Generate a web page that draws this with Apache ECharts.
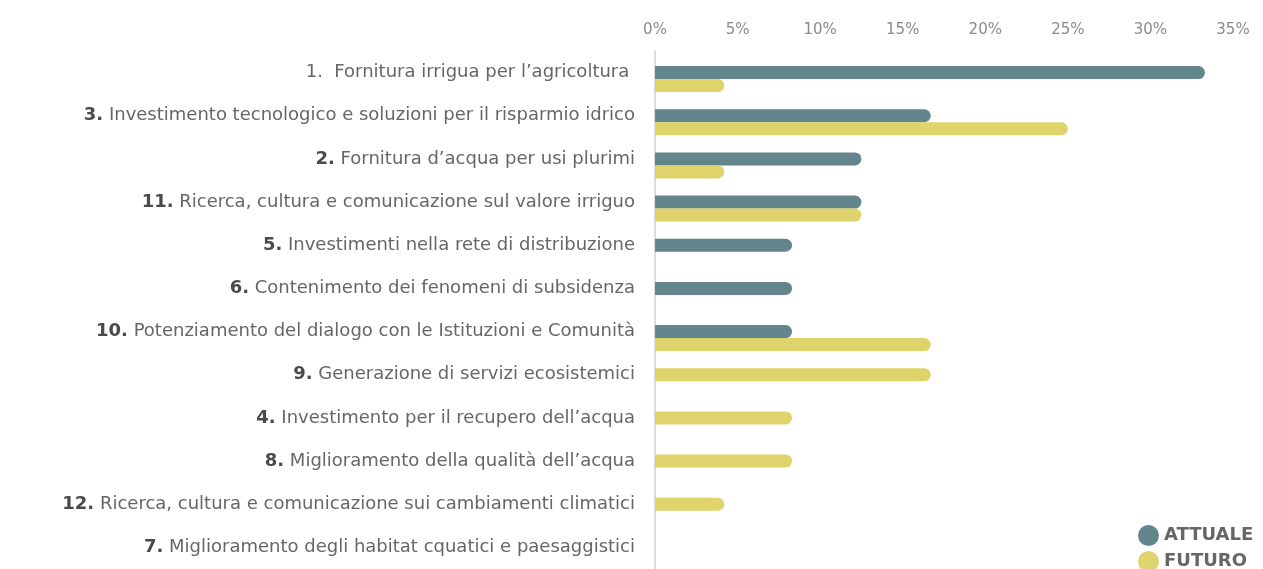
<!DOCTYPE html>
<html>
<head>
<meta charset="utf-8">
<script src="https://cdn.jsdelivr.net/npm/echarts@6/dist/echarts.min.js"></script>
<style>
  html, body { margin: 0; padding: 0; background: #fff; }
  #chart { width: 1263px; height: 569px; }
</style>
</head>
<body>
<div id="chart"></div>
<script>
// ordine delle righe come nel grafico (dall'alto)
const categories = [
  '1.  Fornitura irrigua per l\u2019agricoltura ',
  '3. Investimento tecnologico e soluzioni per il risparmio idrico',
  '2. Fornitura d\u2019acqua per usi plurimi',
  '11. Ricerca, cultura e comunicazione sul valore irriguo',
  '5. Investimenti nella rete di distribuzione',
  '6. Contenimento dei fenomeni di subsidenza',
  '10. Potenziamento del dialogo con le Istituzioni e Comunit\u00e0',
  '9. Generazione di servizi ecosistemici',
  '4. Investimento per il recupero dell\u2019acqua',
  '8. Miglioramento della qualit\u00e0 dell\u2019acqua',
  '12. Ricerca, cultura e comunicazione sui cambiamenti climatici',
  '7. Miglioramento degli habitat cquatici e paesaggistici'
]
const attuale = [33.3, 16.7, 12.5, 12.5, 8.3, 8.3, 8.3, null, null, null, null, null]
const futuro = [4.2, 25, 4.2, 12.5, null, null, 16.7, 16.7, 8.3, 8.3, 4.2, null]
const xTicks = [0, 5, 10, 15, 20, 25, 30, 35]

const colAttuale = '#62868b'
const colFuturo = '#dfd46b'

// righe con entrambe le barre vs. righe con una sola barra
const paired = categories.map((c, i) => attuale[i] != null && futuro[i] != null)
const pick = (arr, keepPaired) => arr.map((v, i) => (paired[i] === keepPaired ? v : null))

const barStyle = color => ({ color: color, borderRadius: [0, 7, 7, 0] })
const BW = 13

const chart = echarts.init(document.getElementById('chart'))
chart.setOption({
  animation: false,
  textStyle: { fontFamily: 'DejaVu Sans' },
  grid: { left: 655, right: 30, top: 51, height: 528, containLabel: false },
  xAxis: {
    type: 'value',
    position: 'top',
    min: xTicks[0],
    max: xTicks[xTicks.length - 1],
    interval: 5,
    axisLine: { show: false },
    axisTick: { show: false },
    splitLine: { show: false },
    axisLabel: {
      margin: 13,
      color: '#8a8a8a',
      fontSize: 15,
      formatter: v => v + '%'
    }
  },
  yAxis: [{
    type: 'category',
    inverse: true,
    data: categories,
    axisLine: { lineStyle: { color: '#dddddd', width: 2 } },
    axisTick: { show: false },
    axisLabel: {
      margin: 20,
      color: '#666',
      fontSize: 18,
      formatter: v => {
        const m = v.match(/^(\d+\.)(\s+)(.*)$/)
        if (!m) return v
        if (m[1] === '1.') return '{t|' + v + '}'
        return '{b|' + m[1] + '}{t| ' + m[3] + '}'
      },
      rich: {
        b: { fontWeight: 'bold', fontSize: 18, color: '#4a4a4a' },
        t: { fontSize: 18, color: '#666' }
      }
    }
  }, {
    type: 'category',
    inverse: true,
    data: categories,
    show: false
  }],
  legend: {
    data: ['ATTUALE', 'FUTURO'],
    orient: 'vertical',
    left: 1138,
    top: 525,
    height: 80,
    icon: 'circle',
    itemWidth: 21,
    itemHeight: 21,
    itemGap: 5,
    padding: 0,
    textStyle: { color: '#666', fontSize: 18, fontWeight: 'bold', padding: [0, 0, 0, 0] }
  },
  series: [
    // serie vuota: sposta la coppia in modo che ATTUALE stia sulla riga
    { type: 'bar', name: '_', yAxisIndex: 0, barWidth: BW, barGap: 0, data: categories.map(() => null) },
    { type: 'bar', name: 'ATTUALE', yAxisIndex: 0, barWidth: BW, barGap: 0,
      itemStyle: barStyle(colAttuale), data: pick(attuale, true) },
    { type: 'bar', name: 'FUTURO', yAxisIndex: 0, barWidth: BW, barGap: 0,
      itemStyle: barStyle(colFuturo), data: pick(futuro, true) },
    // righe con una sola barra, centrata
    { type: 'bar', name: 'ATTUALE', yAxisIndex: 1, barWidth: BW, barGap: '-100%',
      itemStyle: barStyle(colAttuale), data: pick(attuale, false) },
    { type: 'bar', name: 'FUTURO', yAxisIndex: 1, barWidth: BW, barGap: '-100%',
      itemStyle: barStyle(colFuturo), data: pick(futuro, false) }
  ]
})
</script>
</body>
</html>
